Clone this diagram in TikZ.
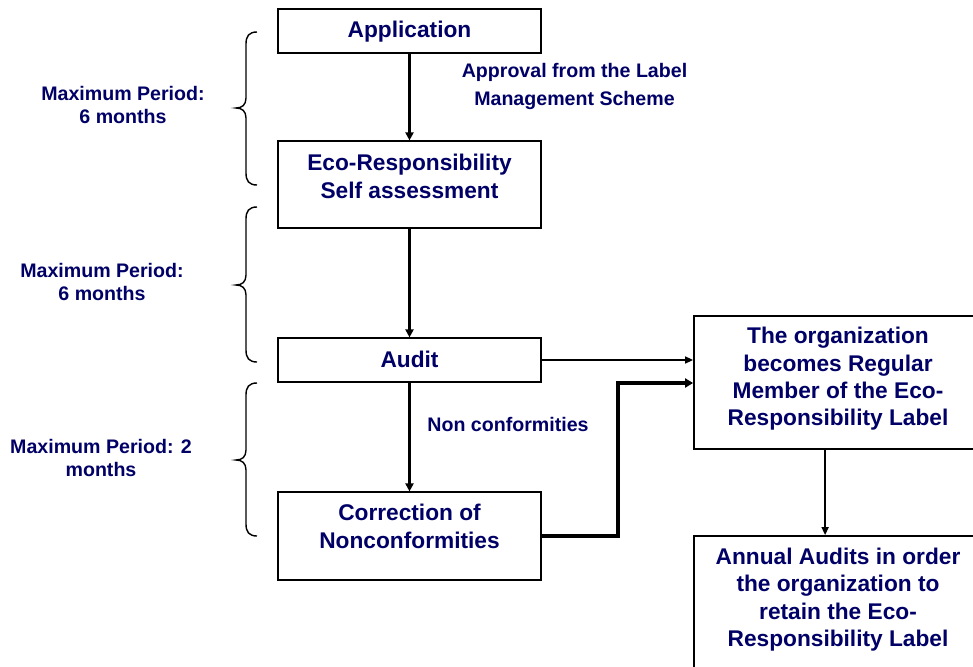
\documentclass[tikz,border=0pt]{standalone}
\usepackage{fontspec}
\setmainfont{Liberation Sans}
\usetikzlibrary{arrows.meta}
\definecolor{navy}{RGB}{0,0,102}
\begin{document}
\begin{tikzpicture}[x=1pt,y=-1pt,
  box/.style={draw=black, line width=1.2pt, minimum width=263pt, inner sep=0pt},
  bigbox/.style={draw=black, line width=1.8pt, minimum width=288pt, inner sep=0pt},
  boxtext/.style={text=navy, font=\bfseries\fontsize{22.7}{27.3}\selectfont, align=center, inner sep=0pt},
  lbl/.style={text=navy, font=\bfseries\fontsize{19.6}{23}\selectfont, align=center, inner sep=0pt},
  arr/.style={-{Triangle[length=8pt,width=8pt]}, line width=2.5pt},
  thinarr/.style={-{Triangle[length=8pt,width=7pt]}, line width=1.5pt},
  thickarr/.style={-{Triangle[length=8pt,width=9pt]}, line width=3.3pt},
  bracepath/.style={draw=black, line width=1.4pt}
]
\useasboundingbox (0,0) rectangle (973,666);
\clip (0,0) rectangle (973,666);
\fill[white] (0,0) rectangle (973,666);

% boxes
\node[box, minimum height=44pt] (app) at (409.5,31) {};
\node[box, minimum height=87pt] (eco) at (409.5,184.5) {};
\node[box, minimum height=44pt] (audit) at (409.5,360) {};
\node[box, minimum height=88pt] (corr) at (409.5,536) {};
\node[bigbox, minimum height=133pt] (org) at (838,382.5) {};
\node[bigbox, minimum height=140pt] (annual) at (838,606) {};

% box texts
\node[boxtext] (appt) at (409.5,32) {Application};
\node[boxtext] (ecot) at (409.5,176.5) {Eco-Responsibility\\Self assessment};
\node[boxtext] (auditt) at (409.5,359.5) {Audit};
\node[boxtext] (corrt) at (409.5,526.5) {Correction of\\Nonconformities};
\node[boxtext] (orgt) at (838,379) {The organization\\becomes Regular\\Member of the Eco-\\Responsibility Label};
\node[boxtext] (annualt) at (838,599.5) {Annual Audits in order\\the organization to\\retain the Eco-\\Responsibility Label};

% labels
\node[lbl, font=\bfseries\fontsize{19.6}{28}\selectfont] (approval) at (574.5,86) {Approval from the Label\\Management Scheme};
\node[lbl] (noncon) at (508,424) {Non conformities};
\node[lbl] (p1) at (123,105) {Maximum Period:\\6 months};
\node[lbl] (p2) at (102,281.5) {Maximum Period:\\6 months};
\node[lbl] (p3) at (101,457.5) {Maximum Period: 2\\months};

% connectors
\draw[arr] (app) -- (eco);
\draw[arr] (eco) -- (audit);
\draw[arr] (audit) -- (corr);
\draw[thinarr] (audit.east) -- (audit.east -| org.west);
\coordinate (bend) at (618,383);
\draw[thickarr] (corr.east) -| (bend) -- (bend -| org.west);
\draw[thinarr] ([xshift=132pt]org.south west) -- ([xshift=132pt]annual.north west);

% braces
\draw[bracepath] (257,32) .. controls (249,32) and (246,36) .. (246,44) -- (246,98)
  .. controls (246,105) and (242,108) .. (236,108)
  .. controls (242,108) and (246,111) .. (246,118) -- (246,173)
  .. controls (246,181) and (249,185) .. (257,185);
\draw[bracepath] (257,207) .. controls (249,207) and (246,211) .. (246,219) -- (246,275)
  .. controls (246,282) and (242,285) .. (236,285)
  .. controls (242,285) and (246,288) .. (246,295) -- (246,350)
  .. controls (246,358) and (249,362) .. (257,362);
\draw[bracepath] (257,383) .. controls (249,383) and (246,387) .. (246,395) -- (246,450)
  .. controls (246,457) and (242,460) .. (236,460)
  .. controls (242,460) and (246,463) .. (246,470) -- (246,524)
  .. controls (246,532) and (249,536) .. (257,536);
\end{tikzpicture}
\end{document}
